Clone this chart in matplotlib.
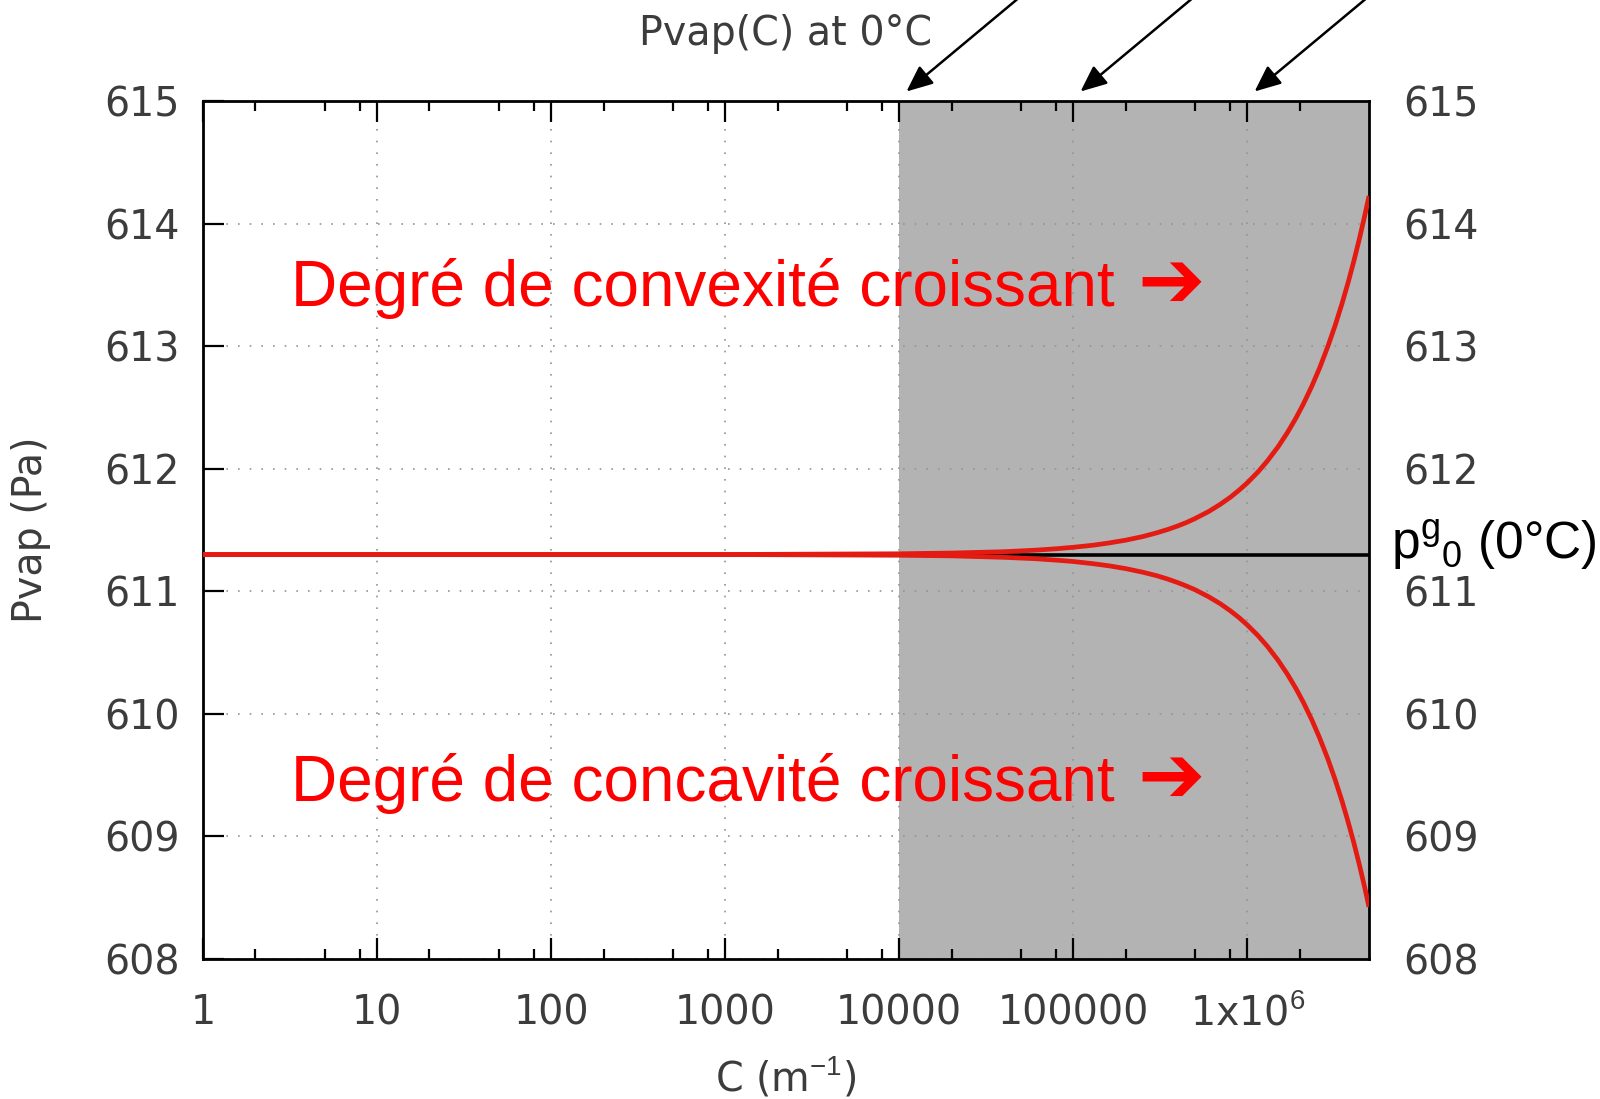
import numpy as np
import matplotlib.pyplot as plt
from matplotlib.ticker import FixedLocator, NullLocator

plt.rcParams['mathtext.fontset'] = 'custom'
plt.rcParams['mathtext.rm'] = 'Liberation Sans'
plt.rcParams['mathtext.it'] = 'Liberation Sans:italic'

# Courbure C (m-1) et pression de vapeur (Pa)
C = [1, 1e3, 1e4, 2e4, 4e4, 6e4, 8e4, 1e5, 1.3e5, 1.6e5, 2e5, 2.5e5, 3e5,
     3.5e5, 4e5, 4.5e5, 5e5, 6e5, 7e5, 8e5, 9e5, 1e6, 1.15e6, 1.3e6, 1.5e6,
     1.7e6, 1.9e6, 2.1e6, 2.35e6, 2.6e6, 2.9e6, 3.2e6, 3.5e6, 3.8e6, 4.1e6,
     4.4e6, 4.7e6, 5e6]
p_convexe = [611.300, 611.300, 611.306, 611.312, 611.323, 611.335, 611.347,
             611.359, 611.376, 611.394, 611.417, 611.446, 611.476, 611.505,
             611.534, 611.563, 611.593, 611.651, 611.710, 611.768, 611.827,
             611.885, 611.973, 612.061, 612.178, 612.295, 612.412, 612.529,
             612.675, 612.821, 612.997, 613.172, 613.348, 613.523, 613.699,
             613.874, 614.050, 614.225]
p_concave = [611.300, 611.300, 611.294, 611.289, 611.277, 611.266, 611.254,
             611.243, 611.225, 611.208, 611.185, 611.156, 611.128, 611.099,
             611.070, 611.041, 611.013, 610.955, 610.898, 610.840, 610.783,
             610.725, 610.639, 610.553, 610.438, 610.323, 610.208, 610.093,
             609.949, 609.805, 609.633, 609.460, 609.288, 609.115, 608.943,
             608.770, 608.598, 608.425]
p0 = 611.30

x_min, x_max = 1, 5e6
zone_debut = 1e4
decades = [1, 10, 100, 1000, 1e4, 1e5, 1e6]
decade_labels = ['1', '10', '100', '1000', '10000', '100000', r'1x10$^{6}$']
y_ticks = [608, 609, 610, 611, 612, 613, 614, 615]
fleches_x = [1e4, 1e5, 1e6]

gris = '#3c3c3c'
rouge_courbe = '#e41b13'
taille = 28.5

fig = plt.figure(figsize=(16, 10.99), dpi=100)
ax = fig.add_axes([203/1600, 1 - 959/1099, 1166/1600, 858/1099])

ax.axvspan(zone_debut, x_max, color='#b3b3b3', lw=0, zorder=0)
ax.axhline(p0, color='black', lw=2.6, zorder=2)
ax.plot(C, p_concave, color=rouge_courbe, lw=3.4, zorder=3, solid_capstyle='butt')
ax.plot(C, p_convexe, color=rouge_courbe, lw=3.4, zorder=3, solid_capstyle='butt')

ax.set_xscale('log')
ax.set_xlim(x_min, x_max)
ax.set_ylim(608, 615)

ax.xaxis.set_major_locator(FixedLocator(decades))
ax.set_xticklabels(decade_labels)
mineurs = [d * m for d in decades for m in (2, 5, 8) if d * m < x_max]
ax.xaxis.set_minor_locator(FixedLocator(mineurs))
ax.set_yticks(y_ticks)
ax.yaxis.set_minor_locator(NullLocator())

ax.grid(True, which='major', color='#949494', lw=1.2, linestyle=(0, (1, 6)))

ax.tick_params(which='both', direction='in', top=True, right=True, width=1.6,
               colors='black', labelcolor=gris, labelsize=taille)
ax.tick_params(which='major', length=15)
ax.tick_params(which='minor', length=7)
ax.tick_params(axis='x', pad=47)
ax.tick_params(axis='y', pad=17)
for lbl in ax.get_xticklabels():
    lbl.set_va('baseline')

ax2 = ax.twinx()
ax2.set_ylim(608, 615)
ax2.set_yticks(y_ticks)
ax2.tick_params(direction='in', length=0, labelsize=taille, labelcolor=gris, pad=25)

for s in ax.spines.values():
    s.set_linewidth(2.0)
for s in ax2.spines.values():
    s.set_visible(False)

ax.set_title('Pvap(C) at 0°C', y=(959 - 34) / 858, pad=0, va='center',
             fontsize=taille, color=gris)
ax.set_xlabel(r'C (m$^{-1}$)', fontsize=taille, color=gris, va='center')
ax.xaxis.set_label_coords(0.5, (959 - 1077) / 858)
ax.set_ylabel('Pvap (Pa)', fontsize=taille, color=gris, va='center')
ax.yaxis.set_label_coords((31 - 203) / 1166, 0.5)

famille = ['Liberation Sans', 'DejaVu Sans']
textes = ['Degré de convexité croissant', 'Degré de concavité croissant']
for texte, yb, yc in zip(textes, [0.761, 0.184], [0.786, 0.209]):
    ax.text(0.0755, yb, texte, transform=ax.transAxes, color='red',
            fontsize=46, family=famille, va='baseline', zorder=5)
    ax.text(0.801, yc, '➔', transform=ax.transAxes, color='red',
            fontsize=58, family='DejaVu Sans', fontweight='bold',
            va='center', ha='left', zorder=5)

ax.text(1.019, (959 - 559) / 858, r'$\mathrm{p^{g}{}_{0}}$ (0°C)', transform=ax.transAxes,
        color='black', fontsize=37, family=famille, va='baseline', ha='left')

for xf in fleches_x:
    ax.annotate('', xy=(xf * 1.07, 1.009), xycoords=('data', 'axes fraction'),
                xytext=(150, 125), textcoords='offset pixels',
                arrowprops=dict(arrowstyle='-|>,head_length=0.8,head_width=0.35',
                                color='black', lw=1.8, mutation_scale=20),
                annotation_clip=False)

fig.savefig('out.png', dpi=100)
